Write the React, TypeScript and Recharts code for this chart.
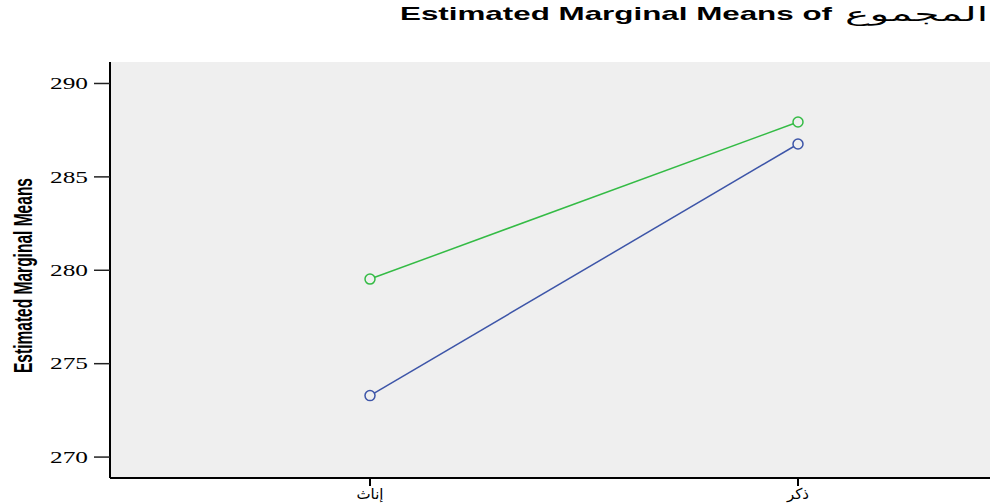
import { LineChart, Line, XAxis, YAxis, CartesianGrid } from "recharts";

const categories = ["إناث", "ذكر"];
const blueSeries = [273.29, 286.76];
const greenSeries = [279.53, 287.94];
const yTicks = [270, 275, 280, 285, 290];

const data = categories.map((c, i) => ({ group: c, blue: blueSeries[i], green: greenSeries[i] }));

const BLUE = "#3d55a8";
const GREEN = "#34bb45";

// SPSS-style wide serif tick numbers
const YTick = (props: any) => (
  <text
    x={props.x}
    y={props.y}
    dy="0.36em"
    textAnchor="end"
    textLength={38}
    lengthAdjust="spacingAndGlyphs"
    fontFamily="Liberation Serif"
    fontSize={16}
    fill="#000"
  >
    {props.payload.value}
  </text>
);

export default function App() {
  return (
    <div style={{ position: "fixed", left: 0, top: 0, width: 990, height: 503, overflow: "hidden", background: "#fff" }}>
      <LineChart width={1060} height={503} data={data} margin={{ top: 62, right: 2, bottom: 0, left: 0 }}>
        <CartesianGrid fill="#efefef" horizontal={false} vertical={false} />
        <XAxis
          dataKey="group"
          padding={{ left: 260, right: 260 }}
          height={25}
          tickSize={8}
          tickMargin={2}
          axisLine={{ stroke: "#000", strokeWidth: 2 }}
          tickLine={{ stroke: "#000", strokeWidth: 2 }}
          tick={{ fill: "#000", fontSize: 15, fontFamily: "DejaVu Sans" }}
        />
        <XAxis
          xAxisId="top"
          orientation="top"
          dataKey="group"
          height={0}
          tick={false}
          tickLine={false}
          axisLine={{ stroke: "#333", strokeWidth: 1.5 }}
        />
        <YAxis
          domain={[268.88, 291.15]}
          ticks={yTicks}
          width={110}
          tickSize={16}
          tickMargin={6}
          axisLine={{ stroke: "#000", strokeWidth: 2 }}
          tickLine={{ stroke: "#222", strokeWidth: 1.5 }}
          tick={YTick}
        />
        <Line
          dataKey="blue"
          stroke={BLUE}
          strokeWidth={1.5}
          dot={{ r: 5, fill: "#efefef", stroke: BLUE, strokeWidth: 1.5 }}
          isAnimationActive={false}
        />
        <Line
          dataKey="green"
          stroke={GREEN}
          strokeWidth={1.5}
          dot={{ r: 5, fill: "#efefef", stroke: GREEN, strokeWidth: 1.5 }}
          isAnimationActive={false}
        />
      </LineChart>
      <svg width={990} height={503} style={{ position: "absolute", left: 0, top: 0, pointerEvents: "none" }}>
        <text
          x={400}
          y={20}
          textLength={432}
          lengthAdjust="spacingAndGlyphs"
          fontFamily="Liberation Sans"
          fontWeight="bold"
          fontSize={19}
          fill="#000"
        >
          Estimated Marginal Means of
        </text>
        <text
          x={845}
          y={21}
          textLength={143}
          lengthAdjust="spacingAndGlyphs"
          fontFamily="DejaVu Sans"
          fontSize={20}
          fill="#000"
        >
          المجموع
        </text>
        <text
          transform="translate(32,275.5) rotate(-90)"
          textAnchor="middle"
          textLength={195}
          lengthAdjust="spacingAndGlyphs"
          fontFamily="Liberation Sans"
          fontWeight="bold"
          fontSize={25}
          fill="#000"
        >
          Estimated Marginal Means
        </text>
      </svg>
    </div>
  );
}
